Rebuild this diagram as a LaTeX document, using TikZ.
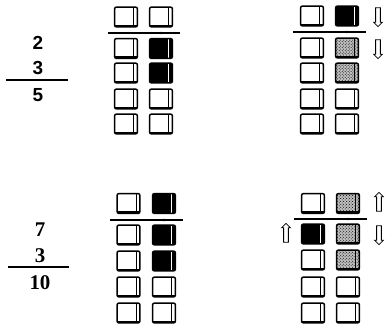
\documentclass[tikz,border=0pt]{standalone}
\usepackage{fontspec}
\setmainfont{Liberation Serif}
\setsansfont{Liberation Sans}
\usetikzlibrary{patterns,shapes.arrows}

\tikzset{
  bead/.style={draw, fill=white, line width=1.5pt, rounded corners=2pt,
    minimum width=23pt, minimum height=20pt, inner sep=0pt,
    path picture={\draw[line width=0.9pt] ([xshift=-4pt]path picture bounding box.north east) -- ([xshift=-4pt]path picture bounding box.south east);
      \draw[line width=1.2pt] ([yshift=1.5pt]path picture bounding box.south west) -- ([yshift=1.5pt]path picture bounding box.south east);}},
  beadon/.style={bead, fill=black,
    path picture={\draw[white, line width=0.7pt] ([xshift=-4pt]path picture bounding box.north east) -- ([xshift=-4pt]path picture bounding box.south east);}},
  beaddot/.style={bead, preaction={fill=black!25}, pattern=crosshatch dots},
  rod/.style={line width=1.1pt},
  fracline/.style={line width=1.4pt},
  digit/.style={font=\bfseries\fontsize{21}{23}\selectfont},
  sfdigit/.style={font=\sffamily\bfseries\fontsize{19}{21}\selectfont},
  hollowarrow/.style={shape=single arrow, draw, line width=0.8pt, fill=white,
    minimum height=19pt, minimum width=8pt, single arrow head extend=2pt, inner sep=2pt}
}

\begin{document}
\begin{tikzpicture}[x=1bp, y=-1bp]
			\useasboundingbox (0, 0) rectangle (391, 330);
			% upper sum
			\node[sfdigit] (a1) at (38, 43) {2};
			\node[sfdigit] (a2) at (38, 68) {3};
			\node[sfdigit] (a3) at (38, 95) {5};
			\coordinate (af1) at (6, 80);
			\coordinate (af2) at (68, 80);
			\draw[fracline] (af1) -- (af2);
			% upper left frame
			\coordinate (p1) at (108, 33);
			\coordinate (p2) at (180, 33);
			\draw[rod] (p1) -- (p2);
			\fill (161, 33) circle (1.3pt);
			\node[bead] (p00) at (126, 17) {};
			\node[bead] (p01) at (161, 17) {};
			\node[bead] (p10) at (126, 48.5) {};
			\node[beadon] (p11) at (161, 48.5) {};
			\node[bead] (p20) at (126, 73) {};
			\node[beadon] (p21) at (161, 73) {};
			\node[bead] (p30) at (126, 99) {};
			\node[bead] (p31) at (161, 99) {};
			\node[bead] (p40) at (126, 124) {};
			\node[bead] (p41) at (161, 124) {};
			% upper right frame
			\coordinate (q1) at (293, 32);
			\coordinate (q2) at (366, 32);
			\draw[rod] (q1) -- (q2);
			\fill (347, 32) circle (1.3pt);
			\node[bead] (q00) at (312, 16) {};
			\node[beadon] (q01) at (347, 16) {};
			\node[bead] (q10) at (312, 48) {};
			\node[beaddot] (q11) at (347, 48) {};
			\node[bead] (q20) at (312, 73) {};
			\node[beaddot] (q21) at (347, 73) {};
			\node[bead] (q30) at (312, 99) {};
			\node[bead] (q31) at (347, 99) {};
			\node[bead] (q40) at (312, 124) {};
			\node[bead] (q41) at (347, 124) {};
			\node[hollowarrow, rotate=-90] (qa1) at (378, 16) {};
			\node[hollowarrow, rotate=-90] (qa2) at (378, 48) {};
			% lower sum
			\node[digit] (b1) at (40, 230) {7};
			\node[digit] (b2) at (40, 256) {3};
			\node[digit] (b3) at (40, 283) {10};
			\coordinate (bf1) at (8, 267);
			\coordinate (bf2) at (69, 267);
			\draw[fracline] (bf1) -- (bf2);
			% lower left frame
			\coordinate (r1) at (110, 220);
			\coordinate (r2) at (183, 220);
			\draw[rod] (r1) -- (r2);
			\fill (164, 220) circle (1.3pt);
			\node[bead] (r00) at (128.5, 203.5) {};
			\node[beadon] (r01) at (164, 203.5) {};
			\node[bead] (r10) at (128.5, 235) {};
			\node[beadon] (r11) at (164, 235) {};
			\node[bead] (r20) at (128.5, 261) {};
			\node[beadon] (r21) at (164, 261) {};
			\node[bead] (r30) at (128.5, 287) {};
			\node[bead] (r31) at (164, 287) {};
			\node[bead] (r40) at (128.5, 313) {};
			\node[bead] (r41) at (164, 313) {};
			% lower right frame
			\coordinate (s1) at (294, 219);
			\coordinate (s2) at (367, 219);
			\draw[rod] (s1) -- (s2);
			\fill (348, 219) circle (1.3pt);
			\node[bead] (s00) at (313, 203.5) {};
			\node[beaddot] (s01) at (348, 203.5) {};
			\node[beadon] (s10) at (313, 234) {};
			\node[beaddot] (s11) at (348, 234) {};
			\node[bead] (s20) at (313, 260) {};
			\node[beaddot] (s21) at (348, 260) {};
			\node[bead] (s30) at (313, 287) {};
			\node[bead] (s31) at (348, 287) {};
			\node[bead] (s40) at (313, 313) {};
			\node[bead] (s41) at (348, 313) {};
			\node[hollowarrow, rotate=90] (sa1) at (286, 234) {};
			\node[hollowarrow, rotate=90] (sa2) at (379, 203) {};
			\node[hollowarrow, rotate=-90] (sa3) at (379, 234) {};
		\end{tikzpicture}
\end{document}
